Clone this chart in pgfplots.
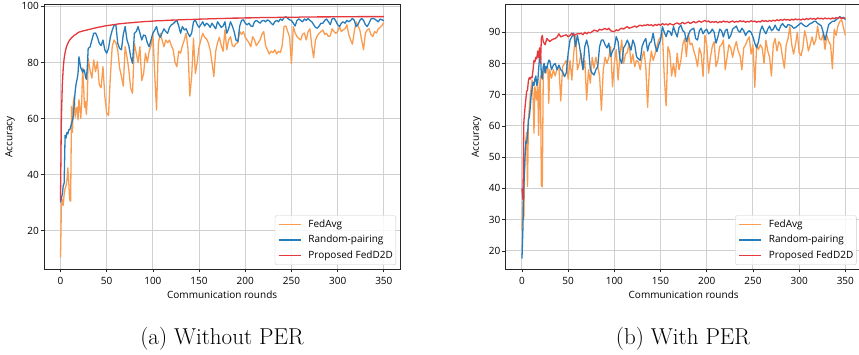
\documentclass[border=0pt]{standalone}
\usepackage{fontspec}
\usepackage{pgfplots}
\usepackage{pgfplotstable}
\pgfplotsset{compat=1.18}
\newfontfamily\osans{Open Sans}
\definecolor{cavg}{RGB}{250,156,80}
\definecolor{crnd}{RGB}{38,124,186}
\definecolor{cprop}{RGB}{228,56,60}
\definecolor{cgrid}{RGB}{208,208,208}

\pgfplotstableread{
x avg rnd prop
0 10.4 30 30.5
1 28.5 31.5 60
2 31 33 72
3 29 36 78
4 33 37 81.5
5 35 54 83.5
6 36 53 85
7 38 55 86
8 42.4 54.5 86.8
9 37 56 87.5
10 31 56 88
11 30.5 57 88.4
12 64.3 58 88.8
13 55 59.5 89.1
14 66 61 89.4
15 68 66 89.7
16 60.5 70 89.9
17 63 72.5 90.1
18 64 74 90.4
19 59.5 76 90.6
20 66.7 82 90.8
21 64 80 90.9
22 60 78 91.0
23 66 77.5 91.1
24 78 76.5 91.2
25 72 77.5 91.3
26 64 77 91.35
27 66 75 91.45
28 61.5 74 91.5
29 67 78 91.6
30 81.5 85 91.7
32 77.3 85.5 91.85
34 74.4 88 92.0
36 80.9 90.4 92.2
38 76.7 90.5 92.3
40 80.3 89 92.5
42 72 86.8 92.6
44 71 86 92.7
46 78.5 88 92.9
48 68 84.5 93.0
50 62 83.3 93.1
52 61 85 93.2
54 75 89 93.3
56 85.6 91.5 93.4
58 88 93.2 93.5
60 87 93.4 93.6
62 84.5 86.8 93.7
64 78 85 93.8
66 75 84.5 93.85
68 71.5 90 93.9
70 85.6 92.8 94.0
72 82 88 94.05
74 77.3 86 94.1
76 70.8 82 94.15
78 69 79.7 94.2
80 86.8 90.4 94.3
82 83.3 91 94.3
84 80 92.8 94.4
86 85.6 90.5 94.4
88 73.5 88 94.5
90 76 89.8 94.55
92 83.3 89.5 94.6
94 80 87 94.6
96 84 85.6 94.65
98 86 88 94.7
100 90.4 90.4 94.75
102 76 91.5 94.8
104 63 92.8 94.85
106 86.8 90 94.85
108 90.4 89 94.9
110 88 90.5 94.9
112 85.6 92 94.95
114 88 91 95.0
116 87 90.4 95.0
118 88 92.5 95.05
120 86 93.4 95.1
122 84.5 93.8 95.1
124 80 94.5 95.15
126 78.5 95 95.15
128 84 93 95.2
130 83.3 90.4 95.2
132 86 92.8 95.25
134 88 91.6 95.25
136 90.4 92 95.3
138 85 90.4 95.3
140 68 89.2 95.3
142 75 90.5 95.35
144 88.6 94.5 95.35
146 76 95.1 95.4
148 80 93.5 95.4
150 85.6 92.5 95.45
152 88 93.5 95.45
154 90.4 94.5 95.5
156 89 93 95.5
158 88.5 94 95.5
160 87 93.5 95.55
162 84.5 92.5 95.55
164 80 94 95.6
166 75 93 95.6
168 84 92 95.6
170 87 94.5 95.65
172 89 93.5 95.65
174 86 92.5 95.7
176 84 93 95.7
178 91.6 94.5 95.7
180 84.5 90.4 95.75
182 88 92 95.75
184 89.2 94.5 95.75
186 86 93 95.8
188 85.6 91 95.8
190 86.8 88 95.8
192 87 87.5 95.8
194 91 93 95.85
196 90 95 95.85
198 91 95.2 95.85
200 89 94 95.9
202 88 93.4 95.9
204 87 94 95.9
206 85.6 93 95.9
208 89.2 92.8 95.95
210 88 94.5 95.95
212 86 95 95.95
214 87 94.5 95.95
216 88 94 96.0
218 90 94.8 96.0
220 91 95 96.0
222 86 94.5 96.0
224 84.5 95.2 96.0
226 83 94.8 96.05
228 84 94 96.05
230 83.5 93.4 96.05
232 84.5 94.5 96.05
234 83 95 96.05
236 84 94.5 96.1
238 83.5 95.5 96.1
240 86 95 96.1
242 92.8 96 96.1
244 93 96.3 96.1
246 91 95.7 96.1
248 89 95.2 96.15
250 79.5 95 96.15
252 92.8 94 96.15
254 90.5 93 96.15
256 89.2 95 96.15
258 88.5 95.5 96.15
260 88 95 96.2
262 90 94.5 96.2
264 90.5 95.5 96.2
266 88 95 96.2
268 91 95.7 96.2
270 92 95 96.2
272 86 94.5 96.2
274 81.7 93.5 96.2
276 88 92.5 96.2
278 89.5 92.2 96.25
280 90.4 93 96.25
282 91 94 96.25
284 91.6 94 96.25
286 90 95 96.25
288 90.4 95.5 96.25
290 89.2 94.5 96.25
292 89.5 93.5 96.25
294 92 95.5 96.3
296 91 95.8 96.3
298 90.4 94.8 96.3
300 91 93.5 96.3
302 92.8 92.8 96.3
304 91 94 96.3
306 91.6 94.5 96.3
308 92 94 96.3
310 93.4 95 96.3
312 90 94.5 96.3
314 88 95 96.3
316 86.5 95.7 96.3
318 91 95 96.3
320 94.5 92.8 96.3
322 93 93.5 96.35
324 91.6 95 96.35
326 88 95.7 96.35
328 84.5 95 96.35
330 90.4 93.5 96.35
332 91.6 92.8 96.35
334 92 94 96.35
336 90 95.5 96.35
338 89.2 95.7 96.35
340 91 95.5 96.35
342 90.5 95 96.35
344 92 94.5 96.35
346 92.5 95.5 96.35
348 93.2 95.2 96.35
350 94.2 94.9 96.35
}\tabA

\pgfplotstableread{
x avg rnd prop
0 26.7 17.5 40
1 36 27 36.5
2 30.5 40 61
3 49 48 65
4 55 55 68
5 58 54.5 71
6 40.6 57 71.5
7 62 62 74.6
8 66 63 75.5
9 69.4 66 75
10 72.6 70 75.7
11 74.7 72 75.5
12 69.4 74 78
13 57.7 73 81
14 72.6 75 80.5
15 70 76 82
16 68.3 73 81.5
17 75 74 84
18 57 78 82
19 72 82 85
20 76 83.5 80
21 41 76 88
22 40.5 75 89
23 74.7 79 87
24 80 80 86.5
25 77.5 77 86
26 76.9 79 87
27 79 78.5 88
28 78.5 80 87.5
29 67.3 81 87.5
30 78 81 87
32 75.3 78 87.5
34 78 79.5 87.8
36 76 80 88
38 78.5 78 88.5
40 79 79.5 89.5
42 68 78 88.5
44 79 77.4 88.8
46 80 75.8 89
48 81 77 89.2
50 75 83.3 88.5
52 81 87.5 89
54 74.7 88.6 89.7
56 83.3 89.7 89
58 89 85.4 89.3
60 78 89 89.5
62 80 86 89.5
64 83.3 82.2 89.7
66 78 78 89.2
68 81 85.4 90
70 68.3 87.5 89.5
72 78 85 90
74 73.7 78 89.8
76 82 76.9 90.2
78 78.5 76.3 90.7
80 82 78 90.5
82 79 79 90.3
84 76 85.4 91
86 65 87.5 90.7
88 78 87.5 91
90 82 86 91.2
92 80 85 90.8
94 82 86.5 91.3
96 85.4 82.2 90.5
98 72.6 84 90.3
100 80 85 90.2
102 84.5 88.6 90.8
104 74.7 87 90.5
106 82.5 81.5 91
108 87.5 80 91.3
110 80 85 91
112 83 86 91.5
114 83.5 87.5 91.8
116 86.5 86 91.3
118 80 84.3 91.5
120 83 87.5 91.7
122 79 86 92
124 81 82.2 91.6
126 80.5 81.5 92
128 78 81 92.3
130 82 85.4 92
132 84 87 92.3
134 79 88 92.2
136 66 84 92.5
138 79 86.5 92.2
140 84 87 92.4
142 81 89.7 92
144 83 86 92.5
146 85.4 83.8 92.2
148 87.5 86 92.6
150 88.5 87.5 92.2
152 89.7 91.8 92.8
154 76 90 92.4
156 66.5 88.6 92.7
158 85.4 90.5 92.3
160 83.5 90.2 92.8
162 76 89 92.5
164 80 91.8 92.3
166 75.8 90 92.8
168 83.3 88.5 93
170 78 91.5 92.6
172 81 92.3 92.8
174 86 90.5 93.2
176 88 90 92.7
178 82.2 87 93
180 89.7 89 93.3
182 86 90.5 92.8
184 86.5 91 93.1
186 84 91.3 93.5
188 82 88 93
190 79 87.5 93.3
192 85 90.5 93.6
194 83 91.3 93.2
196 75.8 89.5 93.5
198 89 90.5 93.8
200 86 91 93.4
202 76.9 89.5 93.6
204 82 90 93.1
206 85.5 91 93.4
208 87 90 93.2
210 79 86.5 93.5
212 81 88.5 93
214 85.4 91 93.4
216 86 90.5 93.2
218 87.5 88.5 93.6
220 78 90.5 93.3
222 82 91 93.5
224 86 88 93.1
226 85 89 93.4
228 82 91 93.6
230 85 91.5 93.2
232 87 92 93.5
234 84 90.5 93.3
236 82.5 90 93.7
238 78 91.3 93.4
240 85 90.5 93.6
242 86 89 93.2
244 87.5 90 93.5
246 88.5 90.5 93.3
248 83 90 93.7
250 86 88.5 93.4
252 72.4 86.5 93.6
254 86 85 93.2
256 84.5 87 93.5
258 86 90.5 93.3
260 85 92 93.8
262 80 90.5 93.5
264 87.5 89.5 93.7
266 84 91 93.4
268 82 92 93.8
270 76 90.5 93.5
272 86 91 93.9
274 88 92.3 93.6
276 84 91 94
278 87 90.5 93.7
280 86 92 94.1
282 82 92.8 93.8
284 78.5 92 94.2
286 86 91.5 93.9
288 88 92.5 94.1
290 91.8 92.3 93.8
292 86 92 94.2
294 83 91.3 93.9
296 86 91.5 94.3
298 90 92 94
300 83.5 92.5 94.2
302 82.5 93 93.9
304 85 92.5 94.3
306 90.5 92 94
308 88 91.8 94.4
310 84 92.3 94.1
312 86 92.8 94.5
314 88.5 93 94.2
316 86 93.5 94.4
318 87.5 93.5 94.1
320 92 92.8 94.6
322 88 92.5 94.3
324 87.5 92 94.5
326 89.5 90 94.2
328 84.5 87.5 94.6
330 89 90 94.3
332 87 92.5 94.5
334 86 93 94.2
336 78.3 93.5 94.6
338 91 93.5 94.3
340 89 94 94.7
342 92 94.5 94.4
344 93.5 95 94.8
346 94 94.5 94.4
348 91.5 94.8 94.6
350 89 94 94.5
}\tabB

\pgfplotsset{
  mystyle/.style={
    scale only axis, width=355.7pt, height=264.3pt, anchor=south west,
    xmin=-17.5, xmax=367.5, xtick={0,50,...,350},
    grid=major, grid style={cgrid, line width=1pt},
    axis line style={black!85, line width=0.8pt},
    tick align=outside, major tick length=3.5pt,
    tick style={black!85, line width=0.7pt},
    xtick pos=bottom, ytick pos=left,
    /pgf/number format/assume math mode=true,
    ticklabel style={font=\osans\fontsize{10}{12}\selectfont},
    xticklabel style={inner sep=0pt, anchor=north, yshift=-4.5pt},
    yticklabel style={inner sep=0pt, anchor=east, xshift=-1.7pt},
    label style={font=\osans\fontsize{10}{12}\selectfont},
    xlabel={Communication rounds},
    ylabel={Accuracy},
    xlabel style={inner sep=0pt, at={(axis description cs:0.5,0)}, anchor=north, yshift=-21.5pt},
    legend style={font=\osans\fontsize{10}{12}\selectfont, draw=black!20, rounded corners=2pt,
      fill=white, fill opacity=0.85, text opacity=1, inner xsep=3pt, inner ysep=4.5pt,
      row sep=5.9pt, column sep=7pt,
      nodes={inner sep=0pt, text height=7.5pt, text depth=2pt},
      cells={anchor=west},
      anchor=south east},
    legend image code/.code={\draw[#1, line width=1.4pt, line cap=butt] (0pt,0pt) -- (22pt,0pt);},
    every axis plot/.append style={line width=1.3pt, line join=round, mark=none},
  }
}

\begin{document}
\begin{tikzpicture}
\useasboundingbox (0pt,0pt) rectangle (859pt,355pt);
\begin{axis}[mystyle, at={(44.3pt,86pt)}, ymin=6.3, ymax=100.6, ytick={20,40,...,100},
  ylabel style={inner sep=0pt, at={(axis description cs:-0.0824,0.5)}, anchor=south},
  legend style={at={(1,0)}, xshift=-4pt, yshift=4pt}]
\addplot[cavg] table[x=x, y=avg] {\tabA};
\addlegendentry{FedAvg}
\addplot[crnd] table[x=x, y=rnd] {\tabA};
\addlegendentry{Random-pairing}
\addplot[cprop] table[x=x, y=prop] {\tabA};
\addlegendentry{Proposed FedD2D}
\end{axis}
\begin{axis}[mystyle, at={(505.8pt,86pt)}, ymin=14.2, ymax=98.83, ytick={20,30,...,90},
  ylabel style={inner sep=0pt, at={(axis description cs:-0.0682,0.5)}, anchor=south},
  legend style={at={(1,0)}, xshift=-5pt, yshift=4pt}]
\addplot[cavg] table[x=x, y=avg] {\tabB};
\addlegendentry{FedAvg}
\addplot[crnd] table[x=x, y=rnd] {\tabB};
\addlegendentry{Random-pairing}
\addplot[cprop] table[x=x, y=prop] {\tabB};
\addlegendentry{Proposed FedD2D}
\end{axis}
\node[anchor=base, inner sep=0pt, font=\fontsize{23}{28}\selectfont] at (222pt,10pt) {(a) Without PER};
\node[anchor=base, inner sep=0pt, font=\fontsize{23}{28}\selectfont] at (683pt,10pt) {(b) With PER};
\end{tikzpicture}
\end{document}
